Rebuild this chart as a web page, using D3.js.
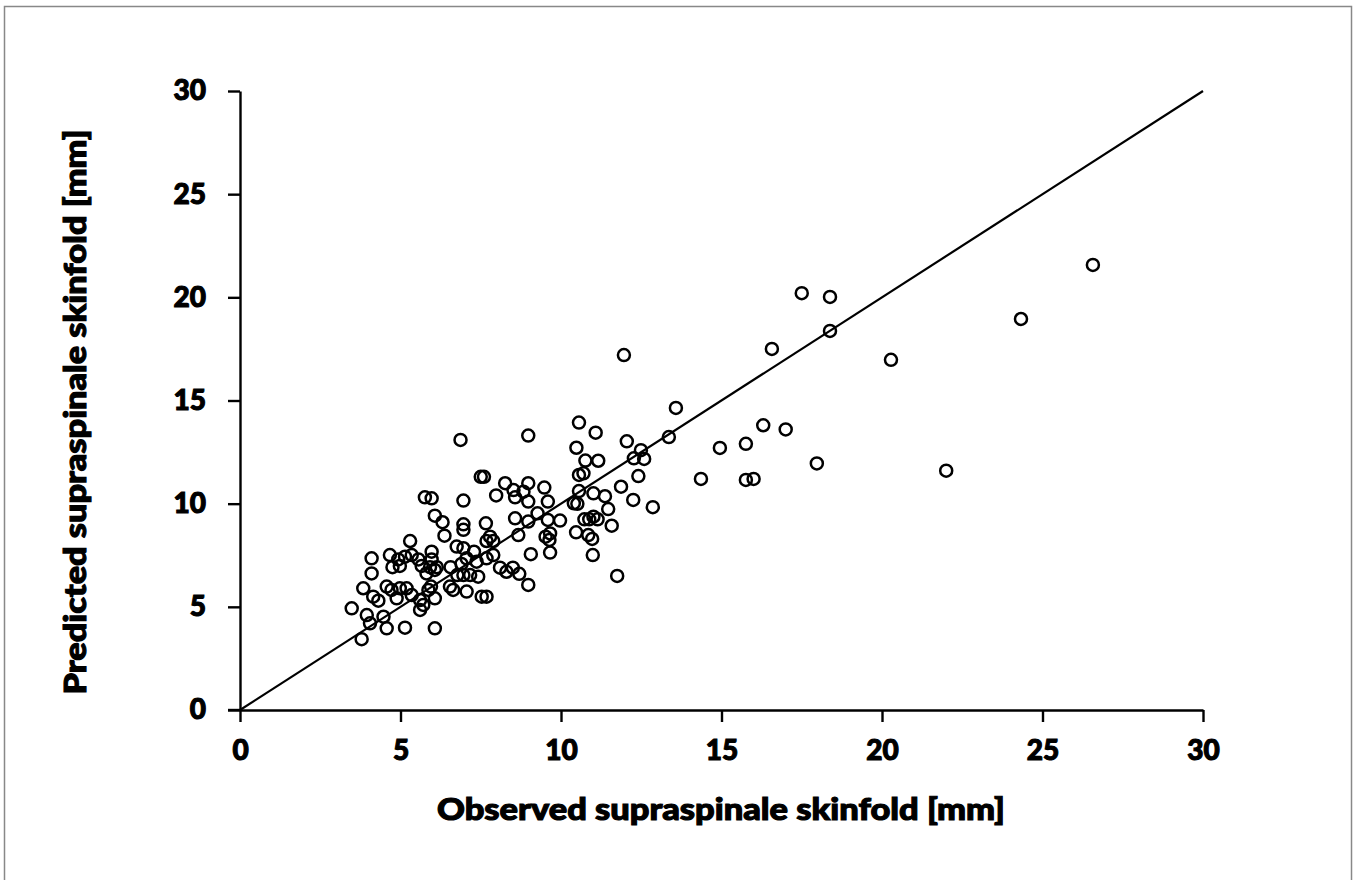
<!DOCTYPE html>
<html>
<head>
<meta charset="utf-8">
<script src="https://cdn.jsdelivr.net/npm/d3@7"></script>
<style>
  body { margin: 0; background: #fff; }
  text { font-family: Lato, "Open Sans", sans-serif; font-weight: 900; fill: #000; stroke: #000; stroke-width: 1.1px; }
</style>
</head>
<body>
<div id="chart"></div>
<script>
// observed vs predicted supraspinale skinfold (mm)
const observed = [
  26.57, 24.33, 22.0, 20.28, 18.38, 18.38, 17.5, 17.97, 17.0, 16.3, 16.57, 15.76, 15.76, 16.0, 14.95, 14.36, 13.58, 13.36, 11.96, 12.86, 11.75,
  8.98, 10.56, 11.08, 10.48, 12.05, 12.49, 12.27, 12.59, 10.76, 11.16, 10.56, 10.7, 12.41, 8.26, 8.98, 9.48, 8.52, 11.87, 8.83, 10.56, 11.01, 11.37, 8.57, 8.98, 9.59, 12.25, 10.4, 10.51, 7.98,
  11.47, 9.27, 8.57, 9.59, 9.97, 11.01, 10.88, 11.14, 10.73, 8.98, 11.58, 10.47, 9.66, 8.67, 10.85, 9.52, 9.64, 10.97, 9.06, 9.66, 10.99, 8.98, 8.1, 8.3, 8.5, 8.7,
  5.76, 5.97, 6.96, 6.07, 6.31, 6.96, 6.96, 7.66, 6.37, 7.79, 7.89, 7.68, 5.3, 6.75, 6.96, 7.89, 4.1, 4.67, 4.93, 5.14, 5.35, 5.56, 5.97, 5.97,
  4.75, 4.98, 5.66, 5.92, 6.13, 6.56, 6.9, 7.06, 7.29, 4.1, 5.81, 6.07, 7.37, 7.68, 6.77, 6.96, 7.17, 7.42,
  3.84, 4.57, 4.72, 4.98, 5.19, 5.35, 5.87, 5.95, 6.54, 6.64, 7.06, 7.53, 7.68, 4.15, 4.31, 4.88, 5.61, 5.71, 5.61, 6.07,
  3.48, 3.95, 4.47, 4.05, 4.57, 5.14, 6.07, 3.79, 6.87, 7.5, 7.6
];
const predicted = [
  21.57, 18.95, 11.6, 16.97, 20.02, 18.37, 20.2, 11.95, 13.6, 13.8, 17.5, 12.9, 11.15, 11.2, 12.7, 11.2, 14.64, 13.23, 17.2, 9.83, 6.5,
  13.3, 13.93, 13.44, 12.71, 13.02, 12.59, 12.2, 12.17, 12.09, 12.08, 11.39, 11.47, 11.34, 10.99, 10.99, 10.78, 10.66, 10.82, 10.58, 10.61, 10.5, 10.36, 10.31, 10.1, 10.1, 10.18, 10.02, 9.99, 10.4,
  9.74, 9.53, 9.29, 9.21, 9.18, 9.37, 9.24, 9.24, 9.24, 9.13, 8.93, 8.61, 8.56, 8.48, 8.48, 8.4, 8.24, 8.29, 7.55, 7.63, 7.51, 6.06, 6.9, 6.7, 6.9, 6.6,
  10.31, 10.26, 10.15, 9.42, 9.1, 9.0, 8.73, 9.05, 8.45, 8.4, 8.19, 8.19, 8.19, 7.92, 7.84, 7.51, 7.35, 7.51, 7.3, 7.43, 7.51, 7.3, 7.67, 7.3,
  6.92, 6.98, 6.98, 6.92, 6.92, 6.92, 7.08, 7.35, 7.67, 6.62, 6.62, 6.79, 7.19, 7.35, 6.54, 6.54, 6.54, 6.46,
  5.9, 5.98, 5.82, 5.9, 5.9, 5.57, 5.82, 5.98, 5.98, 5.82, 5.74, 5.49, 5.49, 5.49, 5.3, 5.41, 5.33, 5.09, 4.85, 5.41,
  4.93, 4.6, 4.52, 4.2, 3.96, 3.99, 3.96, 3.43, 13.09, 11.3, 11.3
];
const xTicks = [0, 5, 10, 15, 20, 25, 30];
const yTicks = [0, 5, 10, 15, 20, 25, 30];
const identity = [[0, 0], [30, 30]];

const W = 1354, H = 880;
const plotLeft = 240, plotRight = 1203, plotTop = 91, plotBottom = 710;

const svg = d3.select('#chart').append('svg').attr('width', W).attr('height', H);

// outer frame
svg.append('rect')
  .attr('x', 4.5).attr('y', 6.5).attr('width', 1347).attr('height', 900)
  .attr('fill', 'none').attr('stroke', '#888').attr('stroke-width', 1.5);

const x = d3.scaleLinear().domain([0, 30]).range([plotLeft, plotRight]);
const y = d3.scaleLinear().domain([0, 30]).range([plotBottom, plotTop]);

//x轴
const gx = svg.append('g').attr('transform', `translate(0,${plotBottom})`)
  .call(d3.axisBottom(x).tickValues(xTicks).tickSize(12).tickPadding(18).tickSizeOuter(0));
//y轴
const gy = svg.append('g').attr('transform', `translate(${plotLeft},0)`)
  .call(d3.axisLeft(y).tickValues(yTicks).tickSize(12).tickPadding(22).tickSizeOuter(0));

[gx, gy].forEach(g => {
  g.select('.domain').attr('stroke', '#000').attr('stroke-width', 2.4);
  g.selectAll('.tick line').attr('stroke', '#000').attr('stroke-width', 2.4);
  g.selectAll('.tick text').style('font-family', 'Lato, sans-serif').style('font-weight', 900)
    .style('font-size', '28px').attr('fill', '#000').attr('stroke', '#000').attr('stroke-width', 1.1);
});
// x axis line extends left to meet the 0 tick of y
gx.append('line').attr('x1', plotLeft - 12).attr('x2', plotLeft).attr('stroke', '#000').attr('stroke-width', 2.4);

// 1:1 line
svg.append('path')
  .datum(identity)
  .attr('d', d3.line().x(d => x(d[0])).y(d => y(d[1])))
  .attr('fill', 'none').attr('stroke', '#000').attr('stroke-width', 2.2);

// points
svg.append('g').selectAll('circle')
  .data(observed.map((v, i) => [v, predicted[i]]))
  .join('circle')
  .attr('cx', d => x(d[0])).attr('cy', d => y(d[1])).attr('r', 6)
  .attr('fill', 'none').attr('stroke', '#000').attr('stroke-width', 2.5);

// axis titles
svg.append('text')
  .attr('x', 721).attr('y', 820).attr('text-anchor', 'middle')
  .attr('font-size', 30).attr('textLength', 568).attr('lengthAdjust', 'spacingAndGlyphs')
  .text('Observed supraspinale skinfold [mm]');

svg.append('text')
  .attr('transform', 'translate(86,412) rotate(-90)').attr('text-anchor', 'middle')
  .attr('font-size', 30).attr('textLength', 565).attr('lengthAdjust', 'spacingAndGlyphs')
  .text('Predicted supraspinale skinfold [mm]');
</script>
</body>
</html>
